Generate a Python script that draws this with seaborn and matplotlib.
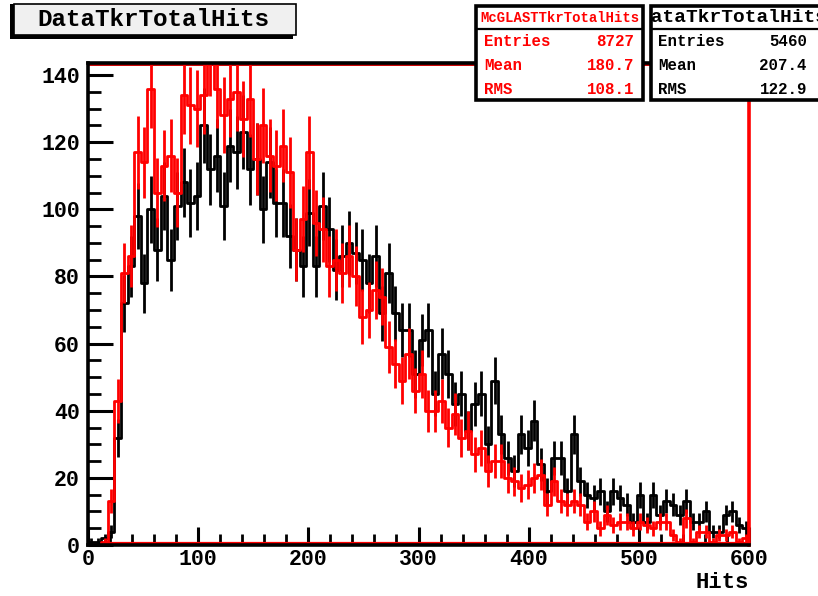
import numpy as np
import pandas as pd
import seaborn as sns
import matplotlib
matplotlib.use("Agg")
import matplotlib.pyplot as plt
from matplotlib.patches import Rectangle
from matplotlib.ticker import MultipleLocator

# ---------------- data (bin width 6, range 0-600, 100 bins) ----------------
bin_width = 6
x_min, x_max = 0, 600

data_counts = [1, 1, 2, 4, 32, 72, 83, 98, 78, 100, 88, 104, 85, 101, 108, 102, 104, 125, 112, 116,
               101, 119, 117, 123, 112, 115, 100, 114, 102, 102, 92, 88, 83, 99, 83, 101, 94, 82, 86, 90,
               87, 85, 78, 86, 69, 81, 69, 64, 64, 51, 61, 64, 45, 57, 51, 42, 45, 34, 42, 45,
               30, 49, 33, 26, 22, 33, 29, 37, 24, 16, 26, 26, 16, 33, 19, 15, 14, 16, 10, 16,
               14, 12, 7, 15, 7, 15, 9, 13, 12, 9, 13, 7, 7, 10, 4, 4, 9, 10, 6, 5]

mc_counts = [0, 0, 1, 13, 43, 81, 86, 117, 114, 136, 105, 113, 116, 105, 134, 131, 130, 134, 146, 136,
             128, 133, 135, 127, 133, 115, 125, 116, 113, 119, 111, 88, 97, 117, 96, 94, 83, 85, 81, 86,
             80, 68, 70, 76, 74, 59, 54, 49, 57, 46, 51, 40, 40, 43, 35, 39, 32, 34, 27, 29,
             22, 25, 25, 20, 19, 17, 18, 20, 21, 12, 19, 13, 12, 13, 12, 7, 10, 5, 9, 6,
             7, 7, 5, 7, 6, 5, 7, 7, 3, 1, 8, 1, 4, 4, 1, 3, 3, 4, 1, 2]

title = "DataTkrTotalHits"
mc_name = "McGLASTTkrTotalHits"
data_name = "DataTkrTotalHits"
stat_labels = ["Entries", "Mean", "RMS"]
mc_stats = ["8727", "180.7", "108.1"]
data_stats = ["5460", "207.4", "122.9"]
x_label = "Hits"
x_ticks = [0, 100, 200, 300, 400, 500, 600]
y_ticks = [0, 20, 40, 60, 80, 100, 120, 140]

# ---------------- figure ----------------
sns.set_style("ticks")
plt.rcParams['font.family'] = ['Liberation Mono', 'DejaVu Sans']
plt.rcParams['font.weight'] = 'bold'
plt.rcParams['text.color'] = 'black'
plt.rcParams['xtick.color'] = 'black'
plt.rcParams['ytick.color'] = 'black'
plt.rcParams['axes.labelcolor'] = 'black'

W, H = 818, 596
fig = plt.figure(figsize=(W / 100, H / 100), dpi=100)
fig.patch.set_facecolor("white")

def fx(px):
    return px / W

def fy(py):
    return 1 - py / H

ax = fig.add_axes([fx(88), fy(545), fx(749) - fx(88), fy(63) - fy(545)])

n_bins = (x_max - x_min) // bin_width
centers = x_min + bin_width * (np.arange(n_bins) + 0.5)

df = pd.DataFrame({"Hits": np.concatenate([centers, centers]),
                   "count": np.concatenate([data_counts, mc_counts]).astype(float),
                   "sample": ["data"] * n_bins + ["mc"] * n_bins})

for name, col in [("data", "black"), ("mc", "#ff0000")]:
    sub = df[df["sample"] == name].reset_index(drop=True)
    sns.histplot(data=sub, x="Hits", weights="count", bins=n_bins, binrange=(x_min, x_max),
                 element="step", fill=False, color=col, linewidth=2.0, ax=ax)
    err = np.sqrt(sub["count"].to_numpy())
    ax.vlines(sub["Hits"], sub["count"] - err, sub["count"] + err, color=col, linewidth=2.0)

ax.set_xlim(x_min, x_max)
ax.set_ylim(0, 143.6)
ax.set_xlabel("")
ax.set_ylabel("")
ax.set_xticks(x_ticks)
ax.set_yticks(y_ticks)
ax.xaxis.set_minor_locator(MultipleLocator(20))
ax.yaxis.set_minor_locator(MultipleLocator(5))
ax.tick_params(axis="both", which="both", colors="black", labelcolor="black")
ax.tick_params(axis="y", which="major", direction="in", length=18, width=2.2, labelsize=15.5, pad=6)
ax.tick_params(axis="y", which="minor", direction="in", length=9, width=2.0)
ax.tick_params(axis="x", which="major", direction="in", length=13, width=2.2, labelsize=15.5, pad=3)
ax.tick_params(axis="x", which="minor", direction="in", length=8, width=2.0)
for lab in ax.get_xticklabels() + ax.get_yticklabels():
    lab.set_fontweight("bold")
    lab.set_color("black")

# frame: black axes + red frame of overlaid histogram
for side in ["left", "bottom", "top"]:
    ax.spines[side].set_color("black")
    ax.spines[side].set_linewidth(2.6)
ax.spines["right"].set_color("#ff0000")
ax.spines["right"].set_linewidth(2.6)
ax.axhline(0.7, color="#ff0000", linewidth=1.6, zorder=1.5)
ax.axhline(143.0, color="#cc0000", linewidth=1.4, zorder=1.5)

fig.text(fx(749), fy(583), x_label, ha="right", va="center", fontsize=16, fontweight="bold",
         color="black")

# ---------------- title box ----------------
fig.add_artist(Rectangle((fx(10), fy(39)), fx(283), fy(4) - fy(39), transform=fig.transFigure,
                         facecolor="black", edgecolor="black", linewidth=0))
fig.add_artist(Rectangle((fx(14), fy(35)), fx(282), fy(4) - fy(35), transform=fig.transFigure,
                         facecolor="#f0f0f0", edgecolor="black", linewidth=1.2))
fig.text(fx(153), fy(20), title, ha="center", va="center", fontsize=17.5, fontweight="bold",
         color="black")

# ---------------- stats boxes ----------------
def stats_box(x0, x1, name, color, values, header_size, lab_x, val_x, hx):
    y0, y1 = 6, 100
    box = Rectangle((fx(x0), fy(y1)), fx(x1) - fx(x0), fy(y0) - fy(y1), transform=fig.transFigure,
                    facecolor="white", edgecolor="black", linewidth=2.6, zorder=5)
    fig.add_artist(box)
    fig.add_artist(plt.Line2D([fx(x0), fx(x1)], [fy(29), fy(29)], transform=fig.transFigure,
                              color="black", linewidth=1.6, zorder=6))
    t = fig.text(fx(hx), fy(17.5), name, ha="center", va="center", color=color,
                 fontsize=header_size, fontweight="bold", zorder=7)
    t.set_clip_path(box)
    for i, (lab, val) in enumerate(zip(stat_labels, values)):
        yy = fy(42 + 23.5 * i)
        fig.text(fx(lab_x), yy, lab, ha="left", va="center", color=color, fontsize=11.3,
                 fontweight="bold", zorder=7)
        fig.text(fx(val_x), yy, val, ha="right", va="center", color=color, fontsize=11.3,
                 fontweight="bold", zorder=7)

stats_box(476, 643, mc_name, "#ff0000", mc_stats, 10, 484, 634, 559.5)
stats_box(651, 822, data_name, "black", data_stats, 14, 658, 807, 734)

fig.savefig("out.png", dpi=100, facecolor="white")
